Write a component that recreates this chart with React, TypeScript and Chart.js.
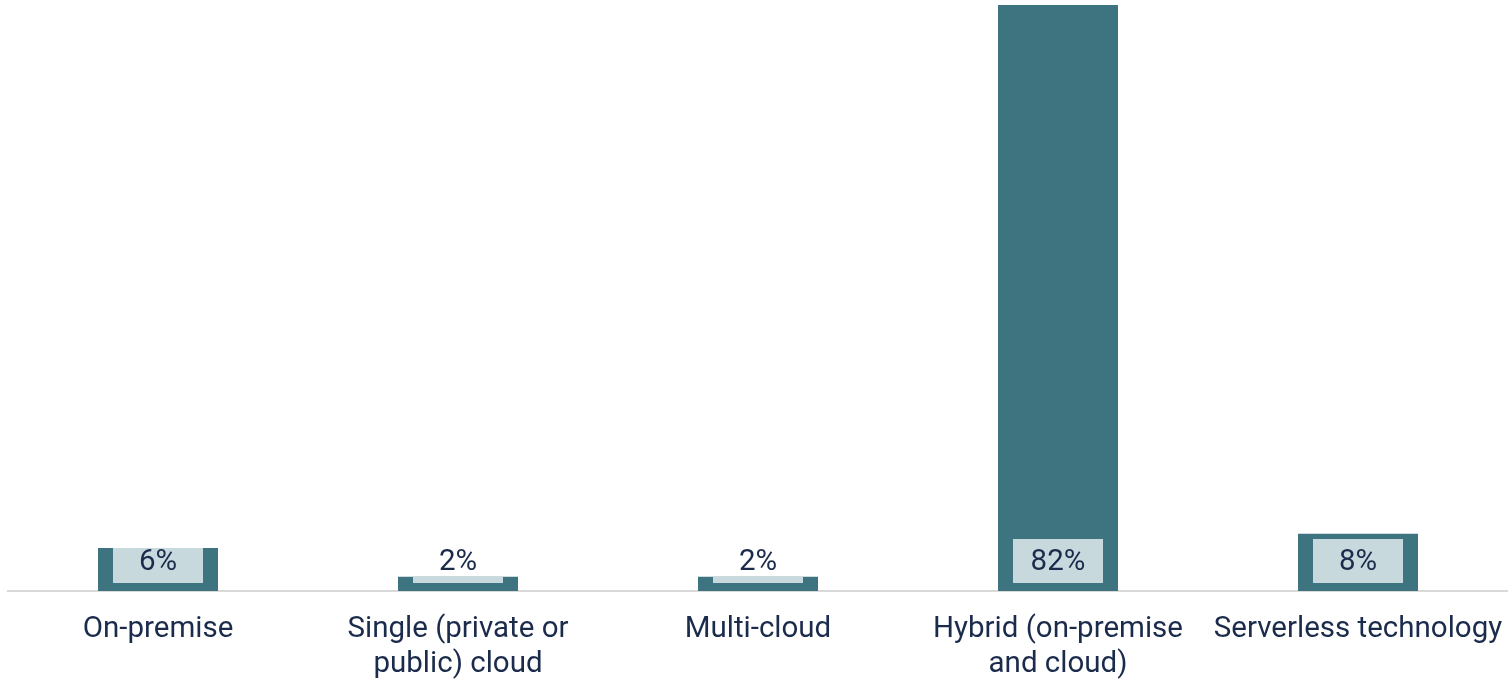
import React, { useEffect, useRef } from "react";
import { Chart, registerables } from "chart.js";

Chart.register(...registerables);

const categories: (string | string[])[] = [
  "On-premise",
  ["Single (private or", "public) cloud"],
  "Multi-cloud",
  ["Hybrid (on-premise", "and cloud)"],
  "Serverless technology",
];
const values: number[] = [6, 2, 2, 82, 8];
const valueLabels: string[] = ["6%", "2%", "2%", "82%", "8%"];

const BAR_COLOR = "#3d7480";
const BOX_COLOR = "#c8d9dd";
const TEXT_COLOR = "#1b2b4b";
const FONT = "Roboto";
const FONT_SIZE = 29.5;

const labelBoxPlugin = {
  id: "labelBox",
  afterDatasetsDraw(chart: any) {
    const ctx = chart.ctx;
    const meta = chart.getDatasetMeta(0);
    meta.data.forEach((bar: any, i: number) => {
      const { x, y, base, width } = bar.getProps(["x", "y", "base", "width"], true);
      const left = x - width / 2;
      const boxW = width - 30;
      const boxH = 44;
      const boxBottom = base - 8;
      const boxTop = boxBottom - boxH;
      ctx.save();
      ctx.beginPath();
      ctx.rect(left, y, width, base - y);
      ctx.clip();
      ctx.fillStyle = BOX_COLOR;
      ctx.fillRect(x - boxW / 2, boxTop, boxW, boxH);
      ctx.restore();
      ctx.save();
      ctx.fillStyle = TEXT_COLOR;
      ctx.font = `${FONT_SIZE}px ${FONT}`;
      ctx.textAlign = "center";
      ctx.textBaseline = "middle";
      ctx.fillText(valueLabels[i], x, boxTop + boxH / 2 + 2);
      ctx.restore();
    });
  },
};

export default function App() {
  const ref = useRef<HTMLCanvasElement>(null);
  useEffect(() => {
    if (!ref.current) return;
    const chart = new Chart(ref.current, {
      type: "bar",
      data: {
        labels: categories,
        datasets: [
          {
            data: values,
            backgroundColor: BAR_COLOR,
            barPercentage: 0.4,
            categoryPercentage: 1,
          },
        ],
      },
      options: {
        animation: false,
        responsive: true,
        maintainAspectRatio: false,
        layout: { padding: { left: 8, right: 0, top: 5, bottom: 0 } },
        plugins: {
          legend: { display: false },
          tooltip: { enabled: false },
        },
        scales: {
          x: {
            grid: { display: false, drawTicks: false },
            border: { display: true, color: "#d9d9d9", width: 2 },
            afterFit: (scale: any) => {
              scale.height = 89;
              scale.paddingLeft = 0;
              scale.paddingRight = 0;
            },
            ticks: {
              color: TEXT_COLOR,
              font: { family: FONT, size: FONT_SIZE, lineHeight: 1.2 },
              padding: 21,
              autoSkip: false,
              maxRotation: 0,
              minRotation: 0,
            },
          },
          y: {
            display: false,
            min: 0,
            max: 82,
          },
        },
      },
      plugins: [labelBoxPlugin],
    });
    return () => chart.destroy();
  }, []);
  return (
    <div style={{ position: "absolute", left: 0, top: 0, width: 1508, height: 680 }}>
      <canvas ref={ref} />
    </div>
  );
}
